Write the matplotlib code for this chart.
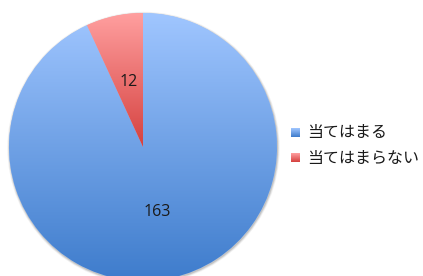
import matplotlib
matplotlib.use("Agg")
import matplotlib.pyplot as plt
import numpy as np
from matplotlib.colors import LinearSegmentedColormap
from matplotlib.patches import Circle

labels = ["当てはまる", "当てはまらない"]
counts = [163, 12]
top_colors = ["#a0c6ff", "#ff9f9f"]
bottom_colors = ["#3e7ccc", "#d5413f"]

plt.rcParams["font.family"] = ["Noto Sans CJK JP", "DejaVu Sans"]

fig = plt.figure(figsize=(4.23, 2.76), dpi=100)
ax = fig.add_axes([0, 0, 1, 1])

cx, cy, r = 143, 129, 134

# soft shadow under the pie
for i, a in enumerate([0.05, 0.08, 0.12]):
    ax.add_patch(Circle((cx + 0.5, cy - 1), r + 2.2 - i * 0.8, color="#000000",
                        alpha=a, lw=0, zorder=0))

total = sum(counts)
wedges, texts, autotexts = ax.pie(
    counts, startangle=90, counterclock=False, center=(cx, cy), radius=r,
    colors=top_colors, autopct=lambda p: f"{round(p * total / 100)}",
    pctdistance=0.5, frame=True,
    textprops=dict(fontsize=11.5, family=["Open Sans", "DejaVu Sans"], color="#1a1a1a"),
    wedgeprops=dict(linewidth=0),
)

# vertical gradient fills clipped to each wedge
for w, c0, c1 in zip(wedges, top_colors, bottom_colors):
    bb = w.get_path().get_extents()
    cmap = LinearSegmentedColormap.from_list("g", [c1, c0])
    grad = np.linspace(0, 1, 256).reshape(-1, 1)
    im = ax.imshow(grad, cmap=cmap, origin="lower", aspect="auto",
                   extent=(bb.x0, bb.x1, bb.y0, bb.y1), zorder=1.5)
    im.set_clip_path(w)
for t in autotexts:
    t.set_zorder(3)

# legend
for i, (lab, c0, c1) in enumerate(zip(labels, top_colors, bottom_colors)):
    y = 143 - i * 25
    cmap = LinearSegmentedColormap.from_list("l", [c1, c0])
    ax.imshow(np.linspace(0, 1, 32).reshape(-1, 1), cmap=cmap, origin="lower",
              aspect="auto", extent=(291, 299.5, y - 4.3, y + 4.3), zorder=2)
    ax.text(307, y, lab, fontsize=11.5, va="center", ha="left", color="#1a1a1a")

ax.set_xlim(0, 423)
ax.set_ylim(0, 276)
ax.set_aspect("equal")
ax.axis("off")

fig.savefig("out.png", dpi=100)
